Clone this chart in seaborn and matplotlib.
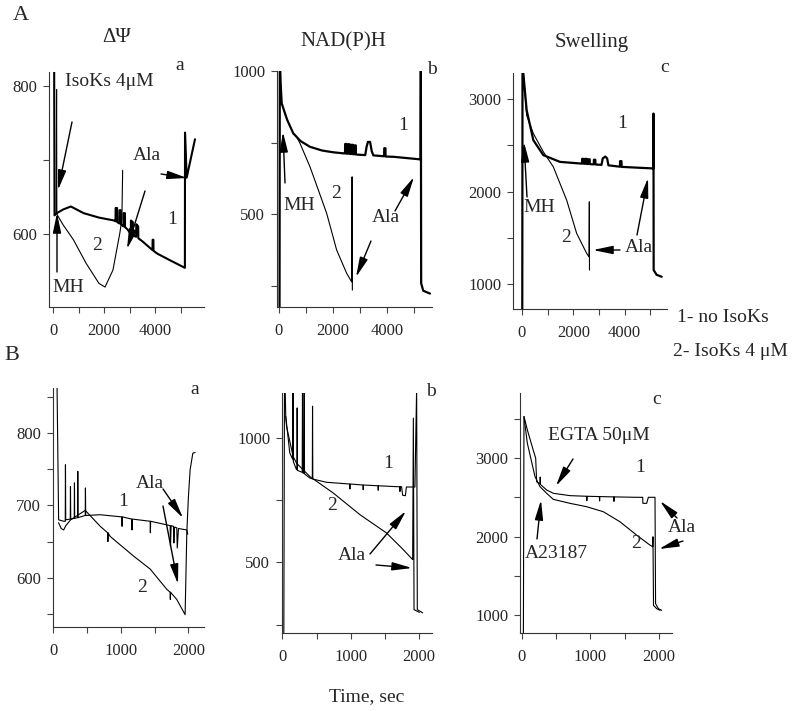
import pandas as pd
import matplotlib.pyplot as plt
import seaborn as sns

# ---------- traces: (time, sec ; signal) ----------
# A-a  delta psi
aa_c1 = [(45, 830), (55, 700), (60, 625), (150, 628), (400, 633), (700, 637), (1200, 628),
         (1800, 622), (2400, 618), (2450, 617), (2455, 635), (2510, 635), (2515, 616),
         (2600, 614), (2605, 632), (2660, 632), (2665, 613), (2760, 610), (2765, 628),
         (2820, 628), (2825, 609), (2920, 606), (3050, 600), (3055, 618), (3130, 616),
         (3135, 598), (3260, 596), (3265, 613), (3340, 610), (3345, 594), (3500, 590),
         (3900, 578), (3905, 592), (3935, 592), (3940, 577), (4100, 573), (4600, 564),
         (5170, 554), (5175, 737), (5240, 676), (5566, 728)]
aa_c2 = [(120, 628), (140, 795), (150, 630), (160, 626), (400, 612), (800, 592), (1300, 560),
         (1800, 533), (2040, 528), (2350, 551), (2620, 601), (2700, 620), (2730, 686)]
# A-b  NAD(P)H
ab_c1 = [(20, 150), (30, 1060), (60, 960), (100, 887), (300, 830), (530, 782), (800, 755),
         (1150, 735), (1600, 722), (2000, 716), (2400, 712), (2450, 712), (2455, 745),
         (2500, 745), (2505, 711), (2560, 711), (2565, 744), (2620, 744), (2625, 710),
         (2680, 710), (2685, 742), (2740, 742), (2745, 709), (2800, 709), (2805, 740),
         (2850, 740), (2855, 708), (3200, 706), (3250, 735), (3300, 752), (3380, 752),
         (3440, 720), (3500, 705), (3900, 702), (3905, 730), (3950, 730), (3955, 701),
         (4250, 700), (4700, 696), (5250, 691), (5262, 1060), (5275, 258), (5350, 232),
         (5600, 222)]
ab_c2 = [(530, 782), (656, 770), (780, 747), (1150, 665), (1460, 584), (1770, 502),
         (2140, 374), (2510, 293), (2696, 263), (2712, 630), (2722, 234)]
# A-c  swelling
ac_c1 = [(10, 500), (20, 3400), (52, 3278), (182, 2881), (442, 2557), (832, 2395),
         (1482, 2322), (2262, 2305), (2340, 2303), (2345, 2355), (2400, 2355), (2405, 2302),
         (2460, 2302), (2465, 2355), (2520, 2355), (2525, 2300), (2580, 2300), (2585, 2350),
         (2640, 2350), (2645, 2298), (2800, 2295), (2805, 2345), (2860, 2345), (2865, 2294),
         (3100, 2290), (3150, 2360), (3250, 2380), (3320, 2360), (3370, 2285), (3820, 2270),
         (3825, 2330), (3880, 2330), (3885, 2268), (5122, 2251), (5127, 2845), (5135, 1151),
         (5250, 1100), (5447, 1079)]
ac_c2 = [(52, 3278), (182, 2827), (442, 2629), (832, 2431), (1222, 2268), (1742, 1908),
         (2132, 1548), (2522, 1332), (2613, 1295), (2626, 1890), (2632, 1151)]
# B-a  delta psi
ba_c1 = [(40, 870), (59, 870), (83, 680), (157, 678), (181, 678), (184, 756), (188, 680),
         (255, 681), (258, 726), (262, 681), (314, 682), (317, 731), (320, 682), (363, 683),
         (366, 747), (370, 683), (476, 686), (479, 724), (483, 686), (698, 687), (1017, 684),
         (1020, 671), (1024, 684), (1164, 681), (1167, 666), (1171, 681), (1435, 678),
         (1438, 662), (1442, 678), (1681, 673), (1730, 672), (1735, 644), (1745, 672),
         (1779, 671), (1785, 648), (1795, 670), (1828, 669), (1835, 641), (1853, 668),
         (1977, 666), (1990, 660)]
ba_c2 = [(83, 676), (120, 668), (157, 666), (190, 672), (260, 680), (476, 693), (698, 671),
         (808, 662), (811, 650), (814, 662), (845, 657), (1189, 630), (1435, 612), (1681, 584),
         (1730, 580), (1733, 570), (1736, 580), (1828, 570), (1951, 549), (1976, 662),
         (2000, 712), (2025, 749), (2065, 772), (2099, 773)]
# B-b  NAD(P)H
bb_c1 = [(20, 150), (30, 1200), (40, 1200), (49, 1087), (108, 940), (150, 915), (155, 1200),
         (160, 905), (206, 873), (214, 873), (216, 1121), (219, 870), (290, 862), (294, 1200),
         (298, 860), (315, 858), (319, 1200), (323, 856), (402, 839), (438, 836), (441, 1128),
         (445, 835), (646, 822), (985, 815), (988, 795), (991, 815), (1134, 812), (1180, 811),
         (1183, 792), (1186, 811), (1400, 808), (1403, 790), (1406, 808), (1623, 805),
         (1718, 804), (1721, 785), (1724, 804), (1745, 804), (1760, 770), (1800, 768),
         (1815, 803), (1940, 803), (1965, 1200), (1975, 310), (2053, 297)]
bb_c2 = [(49, 1087), (60, 1047), (157, 926), (206, 899), (402, 845), (744, 779), (1134, 692),
         (1525, 618), (1770, 551), (1907, 511), (1917, 1080), (1927, 310), (2005, 299)]
# B-c  swelling
bc_c1 = [(20, 600), (29, 3531), (78, 3361), (165, 3100), (200, 3000), (214, 2700),
         (263, 2672), (266, 2760), (270, 2665), (360, 2595), (457, 2553), (701, 2523),
         (944, 2515), (947, 2460), (950, 2515), (1130, 2511), (1133, 2455), (1136, 2511),
         (1340, 2507), (1343, 2450), (1346, 2507), (1674, 2502), (1762, 2502), (1765, 2425),
         (1820, 2425), (1845, 2502), (1942, 2502), (1950, 1148), (1991, 1084), (2039, 1063)]
bc_c2 = [(29, 3531), (78, 3191), (190, 2765), (263, 2637), (360, 2553), (457, 2476),
         (701, 2425), (944, 2382), (1188, 2318), (1431, 2190), (1674, 2020), (1869, 1893),
         (1908, 1872), (1912, 1999), (1920, 1126), (1966, 1084), (2015, 1063)]

# tick values
a_xticks = [0, 1000, 2000, 3000, 4000, 5000]
a_xlabels = ["0", "", "2000", "", "4000", ""]
b_xticks = [0, 500, 1000, 1500, 2000]
b_xlabels = ["0", "", "1000", "", "2000"]
psi_a_yticks = [600, 700, 800]
psi_a_ylabels = ["600", "", "800"]
psi_b_yticks = [550, 600, 650, 700, 750, 800, 850]
psi_b_ylabels = ["", "600", "", "700", "", "800", ""]
nad_yticks = [250, 500, 750, 1000]
nad_ylabels = ["", "500", "", "1000"]
sw_a_yticks = [1000, 1500, 2000, 2500, 3000]
sw_a_ylabels = ["1000", "", "2000", "", "3000"]
sw_b_yticks = [1000, 1500, 2000, 2500, 3000, 3500]
sw_b_ylabels = ["1000", "", "2000", "", "3000", ""]

sns.set_style("ticks")
plt.rcParams["font.family"] = ["Liberation Serif", "DejaVu Serif"]

W, H = 800, 711
fig = plt.figure(figsize=(W / 100, H / 100), dpi=100)

panels = [
    # (left, right, top, bottom) px, curves, widths, xlim, ylim, ticks
    ((49, 204, 72, 307), [aa_c1, aa_c2], [1.5, 0.8], (-157, 5919), (501, 819),
     a_xticks, a_xlabels, psi_a_yticks, psi_a_ylabels),
    ((277, 432, 71, 307), [ab_c1, ab_c2], [1.6, 0.8], (-74, 5677), (175, 1000),
     a_xticks, a_xlabels, nad_yticks, nad_ylabels),
    ((513, 667, 73, 309), [ac_c1, ac_c2], [1.6, 0.8], (-351, 5655), (730, 3284),
     a_xticks, a_xlabels, sw_a_yticks, sw_a_ylabels),
    ((53, 204, 388, 627), [ba_c1, ba_c2], [0.8, 0.8], (0, 2230), (532, 862),
     b_xticks, b_xlabels, psi_b_yticks, psi_b_ylabels),
    ((282, 432, 393, 633), [bb_c1, bb_c2], [0.8, 0.8], (-6, 2190), (216, 1181),
     b_xticks, b_xlabels, nad_yticks, nad_ylabels),
    ((520, 672, 393, 633), [bc_c1, bc_c2], [0.8, 0.8], (-29, 2190), (774, 3830),
     b_xticks, b_xlabels, sw_b_yticks, sw_b_ylabels),
]

for (l, r, t, b), curves, widths, xlim, ylim, xt, xl, yt, yl in panels:
    ax = fig.add_axes([l / W, 1 - b / H, (r - l) / W, (b - t) / H])
    for pairs, lw in zip(curves, widths):
        df = pd.DataFrame(pairs, columns=["t", "v"])
        sns.lineplot(data=df, x="t", y="v", sort=False, estimator=None,
                     color="black", linewidth=lw, ax=ax)
    ax.set_xlim(*xlim)
    ax.set_ylim(*ylim)
    ax.set_xlabel("")
    ax.set_ylabel("")
    ax.set_xticks(xt)
    ax.set_xticklabels(xl)
    ax.set_yticks(yt)
    ax.set_yticklabels(yl)
    ax.tick_params(axis="both", labelsize=12, length=4.5, width=0.8, color="#444444")
    ax.tick_params(axis="x", pad=7)
    ax.tick_params(axis="y", pad=4)
    sns.despine(ax=ax)
    for s in ("left", "bottom"):
        ax.spines[s].set_linewidth(0.8)
        ax.spines[s].set_color("#333333")

# overlay in pixel coordinates for labels and arrows
ov = fig.add_axes([0, 0, 1, 1])
ov.set_xlim(0, W)
ov.set_ylim(H, 0)
ov.axis("off")


def note(s, x, y, size=14, ha="center"):
    ov.text(x, y, s, ha=ha, va="center", fontsize=size)


def arrow(x0, y0, x1, y1):
    ov.annotate("", xy=(x1, y1), xytext=(x0, y0),
                arrowprops=dict(arrowstyle="-|>,head_length=1.2,head_width=0.25",
                                mutation_scale=10, color="black", lw=1.0,
                                shrinkA=0, shrinkB=0))


# row labels and column titles
note("A", 21, 15, size=16)
note("B", 12, 355, size=16)
note("ΔΨ", 117, 38, size=15)
note("NAD(P)H", 343, 42, size=15)
note("Swelling", 592, 43, size=15)
note("a", 180, 65)
note("b", 432, 70)
note("c", 665, 67)
note("a", 195, 389)
note("b", 431, 392)
note("c", 657, 400)

# A-a
note("IsoKs 4μM", 65, 82, ha="left")
arrow(72, 122, 58, 190)
note("MH", 68, 287)
arrow(57, 272, 57, 213)
note("Ala", 147, 155)
arrow(145, 191, 127, 249)
arrow(161, 174, 187, 178)
note("1", 172, 220)
note("2", 97, 245)

# A-b
note("MH", 299, 205)
arrow(285, 183, 283, 132)
note("2", 336, 193)
note("1", 403, 126)
note("Ala", 386, 217)
arrow(371, 241, 356, 277)
arrow(395, 211, 414, 177)

# A-c
note("MH", 539, 207)
arrow(527, 197, 524, 142)
note("2", 566, 238)
note("1", 622, 123)
note("Ala", 639, 248)
arrow(620, 250, 593, 250)
arrow(637, 235, 648, 178)

# legend text
note("1- no IsoKs", 677, 317, ha="left")
note("2- IsoKs 4 μM", 673, 352, ha="left")

# B-a
note("Ala", 150, 483)
arrow(163, 489, 183, 518)
arrow(163, 506, 178, 584)
note("1", 123, 501)
note("2", 142, 588)

# B-b
note("1", 388, 463)
note("2", 332, 505)
note("Ala", 352, 556)
arrow(370, 554, 406, 511)
arrow(376, 565, 412, 568)

# B-c
note("EGTA 50μM", 548, 436, ha="left")
arrow(573, 459, 556, 486)
note("A23187", 525, 554, ha="left")
arrow(537, 539, 541, 500)
note("1", 640, 467)
note("2", 636, 543)
note("Ala", 682, 527)
arrow(677, 518, 660, 501)
arrow(683, 541, 659, 549)

note("Time, sec", 367, 697)

fig.savefig("out.png", dpi=100)
